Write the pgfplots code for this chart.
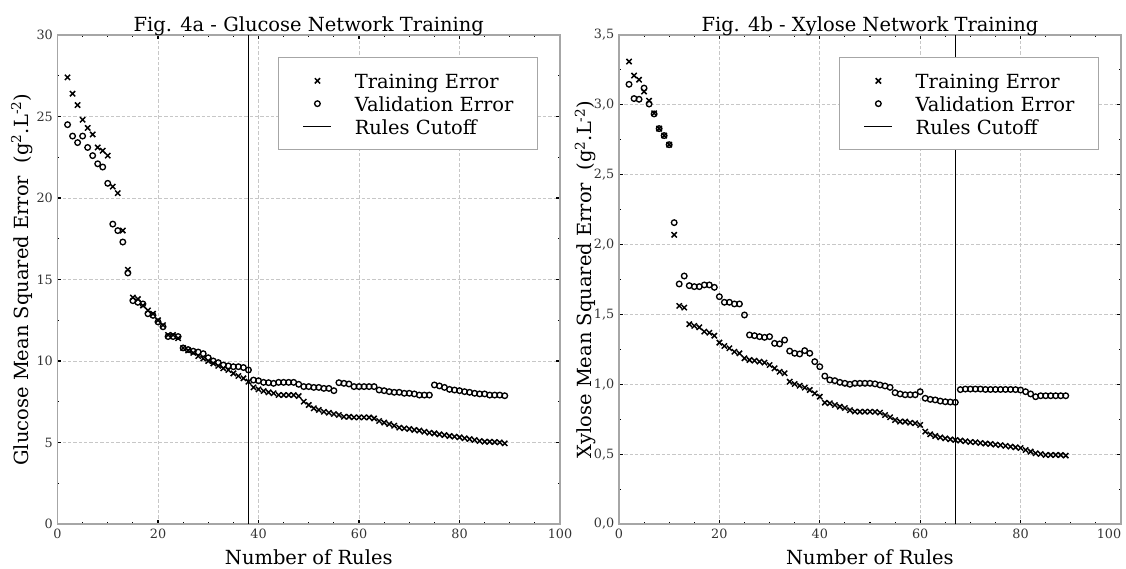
\documentclass[border=0pt]{standalone}
\usepackage{fontspec}
\setmainfont{DejaVu Serif}
\usepackage{pgfplots}
\pgfplotsset{compat=1.18}
\newcommand{\labfont}{\fontsize{14.6}{17}\selectfont}
\newcommand{\tickfont}{\fontsize{9.6}{11}\selectfont}
\pgfplotsset{
 myaxis/.style={
  scale only axis,
  height=366.75pt,
  xmin=0, xmax=100, xtick={0,20,...,100}, minor x tick num=3,
  ymin=0, minor y tick num=1,
  tick align=inside, xtick pos=both, ytick pos=both,
  major tick length=3pt, minor tick length=1.5pt,
  every tick/.style={black, line width=0.8pt},
  axis line style={black!35, line width=1pt},
  xmajorgrids, ymajorgrids,
  major grid style={black!22, line width=0.6pt, dash pattern=on 2.5pt off 1.5pt},
  tick label style={font=\tickfont, text=black!80},
  /pgf/number format/assume math mode=true,
  every axis title/.style={at={(axis description cs:0.5,1)}, anchor=base, yshift=2.7pt, font=\labfont},
  every axis x label/.style={at={(axis description cs:0.5,0)}, anchor=base, yshift=-30pt, font=\labfont},
  legend style={at={(axis description cs:1,1)}, anchor=north east, xshift=-16.5pt, yshift=-16.5pt,
    draw=black!35, line width=0.8pt, font=\labfont, inner xsep=18pt, inner ysep=9.5pt,
    row sep=1.1pt,
    nodes={inner sep=0pt, text height=14pt, text depth=2pt},
    /tikz/every odd column/.append style={column sep=17pt}},
  legend cell align=left,
 },
 trainmark/.style={only marks, mark=x, mark size=2.8pt, mark options={black, line width=1.1pt}},
 valmark/.style={only marks, mark=o, mark size=2.1pt, mark options={black, line width=1pt}},
 cutline/.style={black, line width=1.1pt, mark=none,
   legend image code/.code={\draw[##1] (-2pt,0pt) -- (19pt,0pt);}},
}
\begin{document}
\begin{tikzpicture}
\begin{axis}[myaxis, at={(0pt,0pt)}, anchor=south west, width=376.9pt,
  ymax=30, ytick={0,5,...,30},
  title={Fig. 4a - Glucose Network Training},
  xlabel={Number of Rules},
  every axis y label/.style={at={(axis description cs:-0.0584,0.5)}, rotate=90, anchor=base, font=\labfont},
  ylabel={Glucose Mean Squared Error\ \ (g\textsuperscript{2}.L\textsuperscript{-2})}]
\addplot[trainmark] table {
x y
2 27.4
3 26.4
4 25.7
5 24.8
6 24.3
7 23.9
8 23.1
9 22.9
10 22.6
11 20.7
12 20.3
13 18.0
14 15.6
15 13.9
16 13.8
17 13.4
18 13.1
19 12.9
20 12.5
21 12.2
22 11.6
23 11.6
24 11.4
25 10.8
26 10.65
27 10.5
28 10.3
29 10.15
30 10.0
31 9.85
32 9.7
33 9.55
34 9.45
35 9.24
36 9.08
37 8.94
38 8.73
39 8.38
40 8.26
41 8.16
42 8.08
43 8.02
44 7.91
45 7.91
46 7.91
47 7.91
48 7.85
49 7.51
50 7.30
51 7.10
52 7.00
53 6.89
54 6.83
55 6.75
56 6.69
57 6.58
58 6.58
59 6.54
60 6.54
61 6.54
62 6.54
63 6.48
64 6.32
65 6.22
66 6.13
67 6.03
68 5.91
69 5.87
70 5.83
71 5.77
72 5.73
73 5.66
74 5.60
75 5.56
76 5.50
77 5.46
78 5.40
79 5.36
80 5.32
81 5.26
82 5.21
83 5.15
84 5.09
85 5.05
86 5.05
87 5.03
88 5.01
89 4.95
};
\addlegendentry{Training Error}
\addplot[valmark] table {
x y
2 24.5
3 23.8
4 23.4
5 23.8
6 23.1
7 22.6
8 22.1
9 21.9
10 20.9
11 18.4
12 18.0
13 17.3
14 15.4
15 13.7
16 13.6
17 13.5
18 12.9
19 12.8
20 12.4
21 12.1
22 11.5
23 11.5
24 11.5
25 10.8
26 10.7
27 10.6
28 10.55
29 10.45
30 10.2
31 10.0
32 9.9
33 9.75
34 9.7
35 9.65
36 9.65
37 9.6
38 9.45
39 8.83
40 8.79
41 8.69
42 8.67
43 8.63
44 8.69
45 8.69
46 8.69
47 8.69
48 8.57
49 8.43
50 8.43
51 8.38
52 8.38
53 8.32
54 8.32
55 8.18
56 8.67
57 8.63
58 8.59
59 8.43
60 8.43
61 8.43
62 8.43
63 8.43
64 8.22
65 8.18
66 8.12
67 8.08
68 8.08
69 8.02
70 8.02
71 7.98
72 7.91
73 7.91
74 7.91
75 8.53
76 8.47
77 8.38
78 8.26
79 8.22
80 8.18
81 8.12
82 8.08
83 8.02
84 7.98
85 7.98
86 7.91
87 7.91
88 7.91
89 7.87
};
\addlegendentry{Validation Error}
\addplot[cutline] coordinates {(38,0) (38,30)};
\addlegendentry{Rules Cutoff}
\end{axis}
\begin{axis}[myaxis, at={(421.1pt,0pt)}, anchor=south west, width=376.5pt,
  ymax=3.5, ytick={0,0.5,...,3.5},
  xticklabels={0,20,40,60,80,{\hspace*{-18pt}100}},
  yticklabel style={/pgf/number format/.cd, fixed, fixed zerofill, precision=1, use comma},
  title={Fig. 4b - Xylose Network Training},
  xlabel={Number of Rules},
  every axis y label/.style={at={(axis description cs:-0.0538,0.5)}, rotate=90, anchor=base, font=\labfont},
  ylabel={Xylose Mean Squared Error\ \ (g\textsuperscript{2}.L\textsuperscript{-2})}]
\addplot[trainmark] table {
x y
2 3.31
3 3.21
4 3.18
5 3.095
6 3.03
7 2.94
8 2.83
9 2.78
10 2.715
11 2.07
12 1.561
13 1.549
14 1.430
15 1.418
16 1.408
17 1.377
18 1.369
19 1.348
20 1.298
21 1.274
22 1.258
23 1.233
24 1.222
25 1.186
26 1.174
27 1.169
28 1.162
29 1.155
30 1.138
31 1.114
32 1.09
33 1.079
34 1.019
35 1.002
36 0.99
37 0.976
38 0.959
39 0.935
40 0.911
41 0.868
42 0.864
43 0.852
44 0.840
45 0.830
46 0.815
47 0.805
48 0.804
49 0.804
50 0.804
51 0.803
52 0.797
53 0.780
54 0.764
55 0.744
56 0.733
57 0.733
58 0.725
59 0.721
60 0.709
61 0.661
62 0.642
63 0.630
64 0.620
65 0.613
66 0.606
67 0.601
68 0.597
69 0.592
70 0.587
71 0.585
72 0.580
73 0.576
74 0.573
75 0.568
76 0.564
77 0.559
78 0.554
79 0.549
80 0.544
81 0.530
82 0.518
83 0.506
84 0.501
85 0.494
86 0.494
87 0.494
88 0.494
89 0.490
};
\addlegendentry{Training Error}
\addplot[valmark] table {
x y
2 3.147
3 3.045
4 3.04
5 3.12
6 3.006
7 2.935
8 2.83
9 2.78
10 2.715
11 2.157
12 1.718
13 1.775
14 1.706
15 1.699
16 1.699
17 1.711
18 1.711
19 1.694
20 1.627
21 1.587
22 1.587
23 1.575
24 1.575
25 1.496
26 1.353
27 1.348
28 1.341
29 1.336
30 1.341
31 1.293
32 1.289
33 1.317
34 1.238
35 1.222
36 1.217
37 1.241
38 1.222
39 1.162
40 1.126
41 1.059
42 1.031
43 1.026
44 1.014
45 1.007
46 1.0
47 1.007
48 1.007
49 1.007
50 1.007
51 1.003
52 0.995
53 0.988
54 0.978
55 0.940
56 0.931
57 0.925
58 0.925
59 0.925
60 0.947
61 0.900
62 0.892
63 0.888
64 0.880
65 0.875
66 0.873
67 0.871
68 0.962
69 0.966
70 0.966
71 0.966
72 0.966
73 0.963
74 0.963
75 0.963
76 0.963
77 0.963
78 0.963
79 0.962
80 0.959
81 0.947
82 0.931
83 0.911
84 0.918
85 0.918
86 0.918
87 0.918
88 0.918
89 0.918
};
\addlegendentry{Validation Error}
\addplot[cutline] coordinates {(67,0) (67,3.5)};
\addlegendentry{Rules Cutoff}
\end{axis}
\pgfresetboundingbox
\useasboundingbox (-43.125pt,-33pt) rectangle (801.375pt,393pt);
\end{tikzpicture}
\end{document}
